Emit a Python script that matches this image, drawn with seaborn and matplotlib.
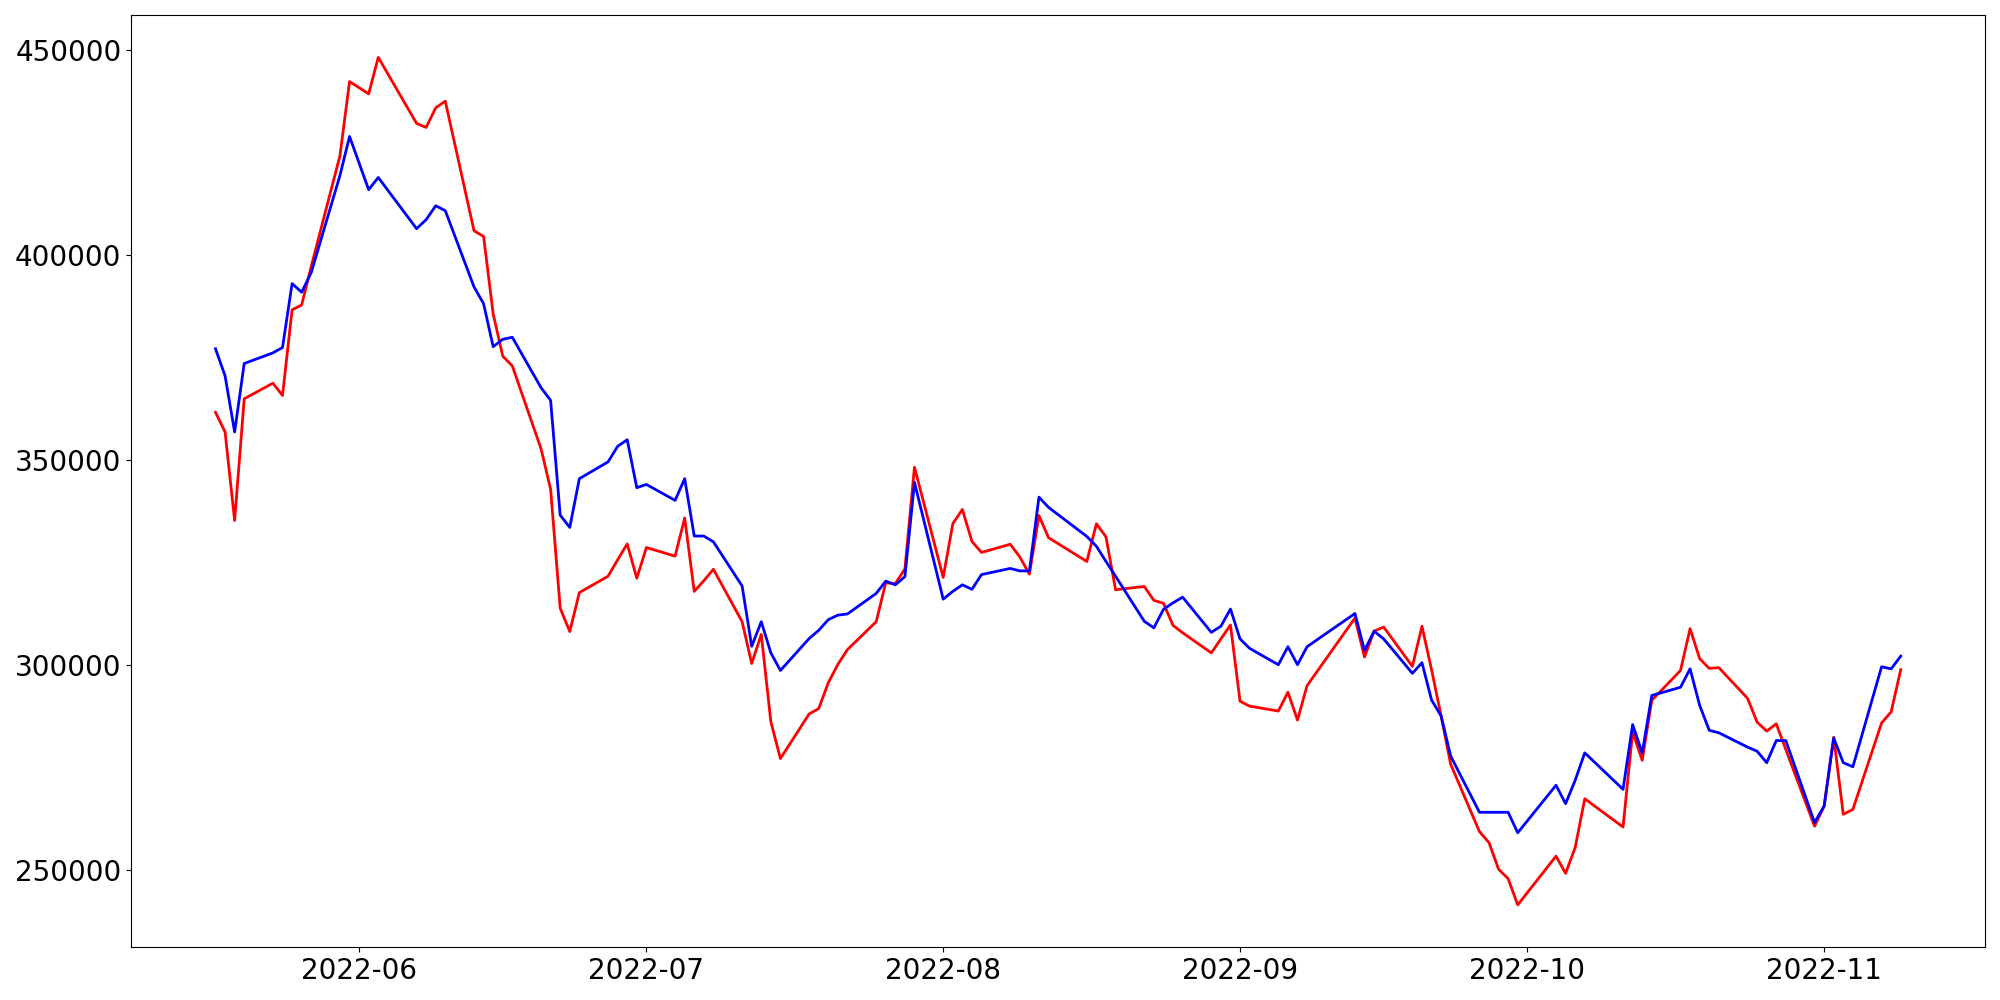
import pandas as pd
import numpy as np
import matplotlib
matplotlib.use("Agg")
import matplotlib.pyplot as plt
import seaborn as sns

# trading days (Korean market holidays skipped)
holidays = ["2022-06-01", "2022-06-06", "2022-08-15", "2022-09-09",
            "2022-09-12", "2022-10-03", "2022-10-10"]
dates = pd.bdate_range("2022-05-17", "2022-11-09", freq="C", holidays=holidays)

# values in thousands
red_k = [
    361.7, 356.9, 335.3, 365.0, 368.8, 365.8, 386.7, 387.9, 397.3, 424.3, 442.4,
    439.4, 448.3, 432.2, 431.2, 436.0, 437.6, 406.0, 404.6, 385.7, 375.4, 373.0,
    352.8, 342.9, 313.9, 308.2, 317.7, 321.7, 325.7, 329.6, 321.2,
    328.7, 326.6, 335.9, 318.0, 320.6, 323.4, 310.6, 300.4, 307.5, 286.2, 277.2,
    288.1, 289.4, 295.7, 300.2, 303.8, 310.6, 320.1, 319.9, 323.5, 348.3,
    321.4, 334.5, 338.0, 330.2, 327.5, 329.5, 326.4, 322.2, 336.5, 331.1,
    325.3, 334.5, 331.3, 318.4, 319.2, 315.8, 315.1, 309.7, 307.9, 303.0, 306.4, 309.8,
    291.2, 290.0, 288.8, 293.4, 286.6, 295.0, 311.5, 302.0, 308.3, 309.3,
    299.7, 309.5, 298.9, 287.6, 275.8, 259.4, 256.7, 250.2, 247.9, 241.5,
    253.4, 249.2, 255.5, 267.4, 260.5, 283.7, 276.8, 291.4, 298.7, 308.9,
    301.6, 299.2, 299.4, 291.9, 286.1, 283.9, 285.7, 279.4, 260.7,
    265.6, 282.4, 263.6, 264.8, 285.9, 288.6, 298.9,
]
blue_k = [
    377.2, 370.6, 356.9, 373.6, 376.2, 377.5, 393.1, 391.0, 395.8, 419.5, 429.0,
    416.0, 419.0, 406.5, 408.7, 412.1, 410.9, 392.3, 388.2, 377.7, 379.5, 380.0,
    367.7, 364.6, 336.6, 333.6, 345.5, 349.6, 353.4, 355.0, 343.3,
    344.1, 340.2, 345.5, 331.5, 331.5, 330.1, 319.3, 304.6, 310.6, 303.0, 298.7,
    306.5, 308.5, 311.1, 312.2, 312.5, 317.5, 320.5, 319.6, 321.6, 344.6,
    316.1, 318.0, 319.6, 318.5, 322.1, 323.6, 323.0, 323.0, 341.0, 338.5,
    331.4, 329.0, 325.3, 321.7, 310.7, 309.1, 313.6, 315.2, 316.6, 308.0, 309.5, 313.7,
    306.4, 304.1, 300.1, 304.5, 300.1, 304.5, 312.6, 303.6, 308.3, 306.4,
    298.0, 300.6, 291.5, 287.6, 277.8, 264.1, 264.1, 264.1, 264.1, 259.1,
    270.7, 266.2, 271.9, 278.6, 269.7, 285.5, 278.6, 292.6, 294.6, 299.1,
    290.2, 284.1, 283.5, 280.0, 279.0, 276.2, 281.6, 281.6, 261.6,
    265.6, 282.2, 276.2, 275.2, 299.6, 299.1, 302.2,
]

red = np.array(red_k) * 1000
blue = np.array(blue_k) * 1000

fig, ax = plt.subplots(figsize=(20, 10), dpi=100)
sns.lineplot(x=dates, y=red, color="red", linewidth=2, ax=ax)
sns.lineplot(x=dates, y=blue, color="blue", linewidth=2, ax=ax)

ax.tick_params(axis="both", labelsize=20)
ax.set_xlabel("")
ax.set_ylabel("")

plt.tight_layout()
plt.savefig("out.png")
